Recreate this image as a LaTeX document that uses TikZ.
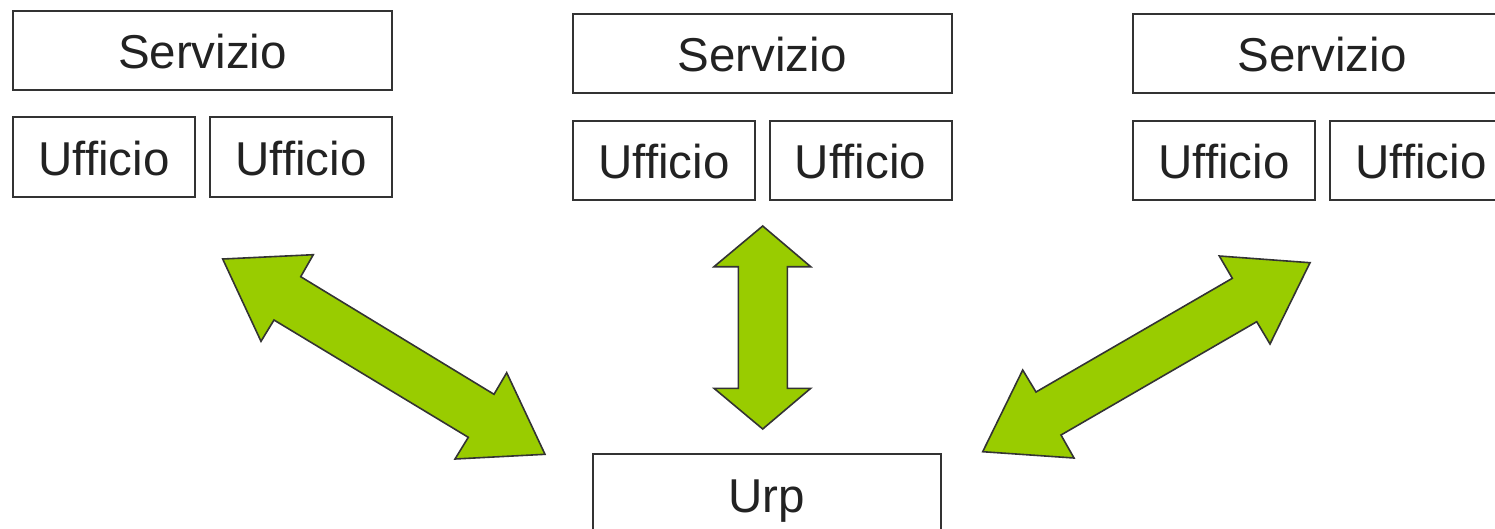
\documentclass[tikz,border=0pt]{standalone}
\usepackage{fontspec}
\setmainfont{Liberation Sans}
\definecolor{boxline}{HTML}{333333}
\definecolor{txt}{HTML}{222222}
\definecolor{arrowgreen}{HTML}{99CC00}
\tikzset{
  unitbox/.style={draw=boxline, line width=2pt, fill=white, rectangle,
    inner sep=0pt, text=txt, font=\fontsize{47.5}{56}\selectfont,
    text height=36.5pt, text depth=0pt},
  fatarrow/.style={draw=boxline, line width=1.6pt, fill=arrowgreen, line join=miter}
}
\begin{document}
\begin{tikzpicture}[x=1pt,y=-1pt]
\useasboundingbox (0,0) rectangle (1495,528);
\clip (0,0) rectangle (1495,528);
% left group
\node[unitbox, minimum width=379pt, minimum height=79pt] (s1) at (202.5,50.5) {Servizio};
\node[unitbox, minimum width=182pt, minimum height=80pt] (u1a) at (104,157) {Ufficio};
\node[unitbox, minimum width=182pt, minimum height=80pt] (u1b) at (301,157) {Ufficio};
% middle group
\node[unitbox, minimum width=379pt, minimum height=79pt] (s2) at (762.2,53.5) {Servizio};
\node[unitbox, minimum width=182pt, minimum height=79pt] (u2a) at (664,160) {Ufficio};
\node[unitbox, minimum width=182pt, minimum height=79pt] (u2b) at (860.5,160) {Ufficio};
% right group
\node[unitbox, minimum width=379pt, minimum height=79pt] (s3) at (1322,53.5) {Servizio};
\node[unitbox, minimum width=182pt, minimum height=79pt] (u3a) at (1224,160) {Ufficio};
\node[unitbox, minimum width=182pt, minimum height=79pt] (u3b) at (1421,160) {Ufficio};
% Urp
\node[unitbox, minimum width=348pt, minimum height=82pt] (urp) at (766.5,494.5) {Urp};
% left double arrow
\draw[fatarrow] (222.7,259) -- (313.3,254.7) -- (300.7,276.7) -- (494,394.3)
  -- (506.7,372.7) -- (545,454.3) -- (455,459) -- (468.3,437.3)
  -- (274,320) -- (261,341.3) -- cycle;
% middle double arrow
\draw[fatarrow] (762.7,226) -- (810.7,266.7) -- (787.3,266.7) -- (787.3,388.3)
  -- (810.7,388.3) -- (762.7,429) -- (714,388.3) -- (738.3,388.3)
  -- (738.3,266.7) -- (714,266.7) -- cycle;
% right double arrow
\draw[fatarrow] (1310,262.7) -- (1270,344) -- (1256.7,321.7) -- (1061,435)
  -- (1074,458) -- (982.7,451.7) -- (1022.7,370) -- (1036,392)
  -- (1232.3,278.3) -- (1219.3,256) -- cycle;
\end{tikzpicture}
\end{document}
